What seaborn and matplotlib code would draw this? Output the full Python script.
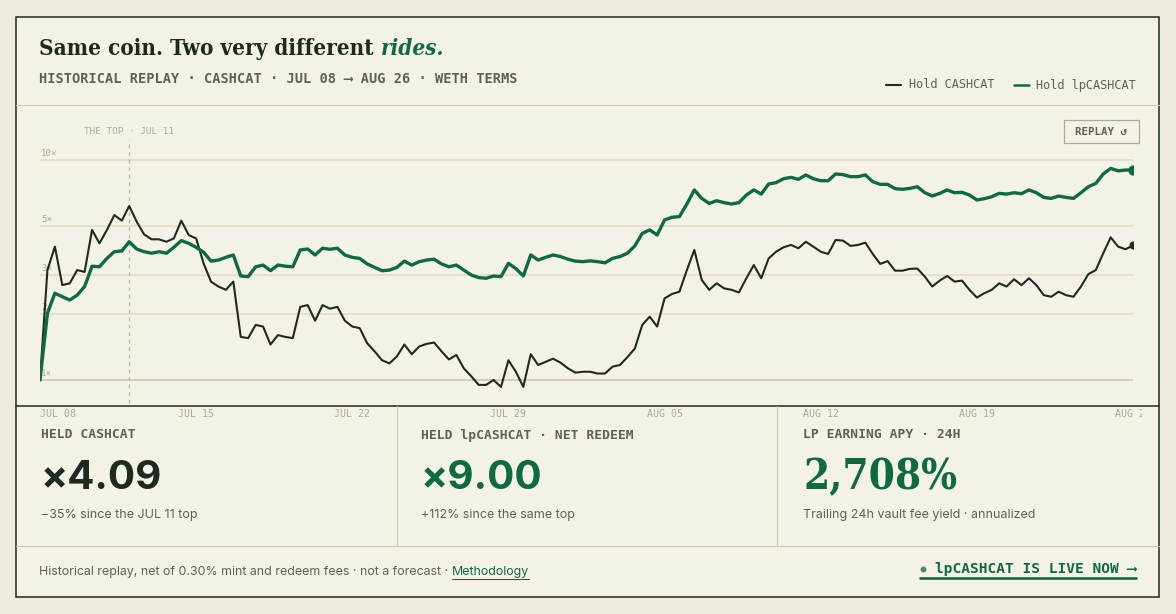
import numpy as np
import pandas as pd
import matplotlib
matplotlib.use("Agg")
import matplotlib.pyplot as plt
from matplotlib.patches import Rectangle
from matplotlib.transforms import Bbox, TransformedBbox, blended_transform_factory
import seaborn as sns

# ---------------- data ----------------
START = "2025-07-08"
STEP_HOURS = 8

CASHCAT = [
    1.00, 3.16, 4.04, 2.70, 2.75, 3.16, 3.10, 4.81, 4.18, 4.81,
    5.62, 5.30, 6.18, 5.25, 4.59, 4.36, 4.36, 4.25, 4.40, 5.30,
    4.56, 4.40, 3.39, 2.80, 2.66, 2.57, 2.80, 1.57, 1.55, 1.78,
    1.75, 1.45, 1.60, 1.57, 1.55, 2.15, 2.19, 1.86, 2.19, 2.11,
    2.15, 1.86, 1.75, 1.72, 1.47, 1.35, 1.23, 1.19, 1.28, 1.45,
    1.31, 1.42, 1.46, 1.48, 1.35, 1.24, 1.30, 1.13, 1.04, 0.95,
    0.95, 1.00, 0.93, 1.23, 1.09, 0.93, 1.31, 1.17, 1.21, 1.25,
    1.20, 1.13, 1.08, 1.09, 1.09, 1.07, 1.07, 1.15, 1.17, 1.27,
    1.39, 1.78, 1.94, 1.75, 2.35, 2.46, 2.52, 3.16, 3.90, 2.85,
    2.57, 2.75, 2.61, 2.57, 2.50, 2.90, 3.33, 2.90, 3.57, 3.83,
    4.01, 4.11, 3.97, 4.25, 4.04, 3.83, 3.74, 4.33, 4.30, 4.07,
    4.11, 4.21, 3.74, 3.37, 3.47, 3.14, 3.14, 3.20, 3.21, 2.95,
    2.66, 2.83, 2.97, 2.80, 2.83, 2.57, 2.37, 2.48, 2.57, 2.75,
    2.66, 2.87, 2.70, 2.90, 2.70, 2.43, 2.39, 2.52, 2.43, 2.39,
    2.66, 3.03, 3.16, 3.77, 4.45, 4.04, 3.93, 4.09,
]
LPCASHCAT = [
    1.00, 2.01, 2.48, 2.39, 2.31, 2.43, 2.66, 3.29, 3.27, 3.57,
    3.83, 3.86, 4.25, 3.94, 3.83, 3.77, 3.83, 3.77, 4.01, 4.30,
    4.18, 4.01, 3.81, 3.47, 3.51, 3.61, 3.70, 2.97, 2.95, 3.27,
    3.33, 3.14, 3.33, 3.29, 3.27, 3.90, 3.94, 3.70, 3.97, 3.93,
    3.97, 3.70, 3.61, 3.57, 3.37, 3.25, 3.14, 3.16, 3.25, 3.47,
    3.33, 3.45, 3.51, 3.54, 3.37, 3.27, 3.33, 3.16, 3.00, 2.92,
    2.90, 2.97, 2.95, 3.39, 3.21, 2.97, 3.70, 3.51, 3.61, 3.70,
    3.64, 3.54, 3.47, 3.45, 3.48, 3.45, 3.41, 3.57, 3.64, 3.77,
    4.07, 4.64, 4.81, 4.56, 5.34, 5.49, 5.53, 6.31, 7.31, 6.69,
    6.35, 6.53, 6.40, 6.31, 6.40, 6.93, 7.31, 7.00, 7.78, 7.89,
    8.22, 8.34, 8.17, 8.55, 8.22, 8.05, 8.05, 8.64, 8.58, 8.40,
    8.40, 8.55, 7.97, 7.75, 7.75, 7.41, 7.36, 7.43, 7.56, 7.10,
    6.86, 7.05, 7.31, 7.10, 7.13, 6.93, 6.58, 6.67, 6.81, 7.05,
    7.00, 7.10, 7.03, 7.31, 7.10, 6.76, 6.69, 6.86, 6.76, 6.69,
    7.10, 7.56, 7.83, 8.64, 9.16, 8.93, 9.00, 9.00,
]
SERIES_NAMES = ["Hold CASHCAT", "Hold lpCASHCAT"]
GRID_LEVELS = [1, 2, 3, 5, 10]
GRID_LABELS = ["1×", "2×", "3×", "5×", "10×"]
TICK_DATES = ["2025-07-08", "2025-07-15", "2025-07-22", "2025-07-29",
              "2025-08-05", "2025-08-12", "2025-08-19", "2025-08-26"]
TICK_LABELS = ["JUL 08", "JUL 15", "JUL 22", "JUL 29", "AUG 05", "AUG 12", "AUG 19", "AUG 26"]
TOP_LABEL = "THE TOP · JUL 11"

TITLE_MAIN = "Same coin. Two very different"
TITLE_ACCENT = "rides."
SUBTITLE = "HISTORICAL REPLAY · CASHCAT · JUL 08 ⟶ AUG 26 · WETH TERMS"
STAT_LABELS = ["HELD CASHCAT", "HELD lpCASHCAT · NET REDEEM", "LP EARNING APY · 24H"]
STAT_VALUES = ["×4.09", "×9.00", "2,708%"]
STAT_NOTES = ["−35% since the JUL 11 top", "+112% since the same top",
              "Trailing 24h vault fee yield · annualized"]
FOOTER = "Historical replay, net of 0.30% mint and redeem fees · not a forecast ·"
FOOTER_LINK = "Methodology"
CTA = "lpCASHCAT IS LIVE NOW ⟶"

# ---------------- style ----------------
OUTER = "#EEEBDE"
CARD = "#F4F2E6"
DARK = "#1C2A21"
GREEN = "#0E6B40"
MUTED = "#5A6456"
LIGHT = "#ACAA97"
RULE = "#CBC8B1"
GRIDC = "#E4E0CD"

sns.set_theme(style="white")
MONO = ["DejaVu Sans Mono", "DejaVu Sans"]
SANS = ["Inter", "DejaVu Sans"]
SERIF = ["DejaVu Serif"]
plt.rcParams["font.family"] = ["DejaVu Sans"]

W, H = 1176, 614
fig = plt.figure(figsize=(W / 100, H / 100), dpi=100)
fig.patch.set_facecolor(OUTER)
R = fig.canvas.get_renderer()

bg = fig.add_axes([0, 0, 1, 1])
bg.set_xlim(0, W)
bg.set_ylim(H, 0)
bg.axis("off")
bg.set_zorder(0)


def fit(t, w):
    cur = t.get_window_extent(R).width
    t.set_fontsize(t.get_fontsize() * w / cur)
    return t.get_fontsize()


# card + rules
bg.add_patch(Rectangle((16, 17), 1143, 580, facecolor=CARD, edgecolor=DARK, lw=1.1, zorder=0))
bg.plot([16, 1159], [105, 105], color=RULE, lw=0.8, zorder=1)
bg.plot([16, 1159], [406, 406], color=DARK, lw=1.1, zorder=1)
bg.plot([16, 1159], [546, 546], color=RULE, lw=0.8, zorder=1)
for xv in (397, 777):
    bg.plot([xv, xv], [406, 546], color=RULE, lw=0.8, zorder=1)

# title
t1 = bg.text(39, 55, TITLE_MAIN, family=SERIF, weight="bold", fontstretch="condensed",
             color=DARK, fontsize=16, va="baseline", ha="left")
tsize = fit(t1, 336)
e1 = t1.get_window_extent(R)
bg.text(e1.x1 + 7, 55, TITLE_ACCENT, family=SERIF, weight="bold", style="italic",
        fontstretch="condensed", color=GREEN, fontsize=tsize, va="baseline", ha="left")

st = bg.text(39, 79, SUBTITLE, family=MONO, weight="bold", color=MUTED, fontsize=9,
             va="center", ha="left")
fit(st, 473)

# legend
bg.plot([886, 901], [85, 85], color=DARK, lw=1.5)
lt1 = bg.text(909, 85, SERIES_NAMES[0], family=MONO, color=MUTED, fontsize=8.5, va="center")
ls = fit(lt1, 86)
bg.plot([1014, 1029], [85, 85], color=GREEN, lw=1.8)
bg.text(1036, 85, SERIES_NAMES[1], family=MONO, color=MUTED, fontsize=ls, va="center")

# replay button
bg.add_patch(Rectangle((1064, 120), 75, 23, fill=False, edgecolor="#AEAB92", lw=0.9))
rp = bg.text(1101, 132, "REPLAY ↺", family=MONO, weight="bold", color=MUTED, fontsize=7,
             va="center", ha="center")
fit(rp, 52)

# ---------------- chart ----------------
times = pd.Timestamp(START) + pd.to_timedelta(np.arange(len(CASHCAT)) * STEP_HOURS, unit="h")
df = pd.DataFrame({"time": times, SERIES_NAMES[0]: CASHCAT, SERIES_NAMES[1]: LPCASHCAT})
long = df.melt(id_vars="time", var_name="series", value_name="multiple")

ax = fig.add_axes([40 / W, (H - 395) / H, 1093 / W, 255 / H])
ax.patch.set_alpha(0)
ax.set_zorder(1)
ax.set_yscale("log")

sns.lineplot(data=long[long.series == SERIES_NAMES[0]], x="time", y="multiple",
             color=DARK, linewidth=1.5, ax=ax, legend=False, zorder=3)
sns.lineplot(data=long[long.series == SERIES_NAMES[1]], x="time", y="multiple",
             color=GREEN, linewidth=2.4, ax=ax, legend=False, zorder=4)
ax.scatter([times[-1]], [CASHCAT[-1]], s=34, color=DARK, zorder=5, linewidths=0)
ax.scatter([times[-1]], [LPCASHCAT[-1]], s=55, color=GREEN, zorder=6, linewidths=0)

ax.set_xlim(times[0], times[-1])
ax.set_ylim(10 ** (-15 / 220), 10 ** (240 / 220))
for s in ax.spines.values():
    s.set_visible(False)
ax.set_xticks([])
ax.set_yticks([], minor=True)
ax.set_yticks([])
ax.set_xlabel("")
ax.set_ylabel("")

for lvl, lab in zip(GRID_LEVELS, GRID_LABELS):
    ax.axhline(lvl, color=("#D2CFBA" if lvl == 1 else GRIDC), lw=1.4, zorder=1)
    ax.annotate(lab, xy=(0, lvl), xycoords=ax.get_yaxis_transform(), xytext=(1, 4),
                textcoords="offset pixels", va="baseline", ha="left", family=MONO,
                color=LIGHT, fontsize=6.6, zorder=2)

top_time = times[int(np.argmax(CASHCAT))]
ax.axvline(top_time, ymin=-0.03, ymax=1.0, color="#B9B7A3", lw=0.9, ls=(0, (3, 3)),
           clip_on=False, zorder=1)
trans = blended_transform_factory(ax.transData, bg.transData)
tl = ax.text(top_time, 132, TOP_LABEL, transform=trans, family=MONO, color=LIGHT,
             fontsize=7, ha="center", va="center")
fit(tl, 91)

clip = TransformedBbox(Bbox.from_extents(0, 0, 1142 / W, 1), fig.transFigure)
xsize = None
for i, (d, lab) in enumerate(zip(TICK_DATES, TICK_LABELS)):
    tx = ax.text(pd.Timestamp(d), 414, lab, transform=trans, family=MONO, color=LIGHT,
                 fontsize=xsize or 8, ha=("left" if i == 0 else "center"), va="center",
                 clip_on=True)
    tx.set_clip_box(clip)
    if xsize is None:
        xsize = fit(tx, 36)

# ---------------- stats ----------------
xs = [41, 421, 803]
lab_size = None
note_size = None
for i, x0 in enumerate(xs):
    lt = bg.text(x0, 435, STAT_LABELS[i], family=MONO, weight="bold", color=MUTED,
                 fontsize=lab_size or 9.5, va="center", ha="left")
    if lab_size is None:
        lab_size = fit(lt, 95)
    if i < 2:
        vt = bg.text(x0, 489, STAT_VALUES[i], family=SANS, weight="bold",
                     color=(DARK if i == 0 else GREEN), fontsize=30, va="baseline", ha="left")
        fit(vt, 121)
    else:
        vt = bg.text(x0, 489, STAT_VALUES[i], family=SERIF, weight="bold", fontstretch="condensed",
                     color=GREEN, fontsize=30, va="baseline", ha="left")
        fit(vt, 154)
    nt = bg.text(x0, 515, STAT_NOTES[i], family=SANS, color=MUTED, fontsize=note_size or 9.5,
                 va="center", ha="left")
    if note_size is None:
        note_size = fit(nt, 156)

# ---------------- footer ----------------
ft = bg.text(39, 572, FOOTER, family=SANS, color=MUTED, fontsize=9.5, va="center", ha="left")
fsz = fit(ft, 408)
mt = bg.text(452, 572, FOOTER_LINK, family=SANS, color=GREEN, fontsize=fsz, va="center", ha="left")
me = mt.get_window_extent(R)
bg.plot([me.x0, me.x1], [579, 579], color=GREEN, lw=0.8)

bg.scatter([923], [569], s=18, color="#4F8A68", linewidths=0, zorder=3)
ct = bg.text(935, 569, CTA, family=MONO, weight="bold", color=GREEN, fontsize=9.5,
             va="center", ha="left")
fit(ct, 202)
bg.plot([919, 1137], [578, 578], color=GREEN, lw=1.9, solid_capstyle="butt")

fig.savefig("out.png", dpi=100, facecolor=OUTER)
